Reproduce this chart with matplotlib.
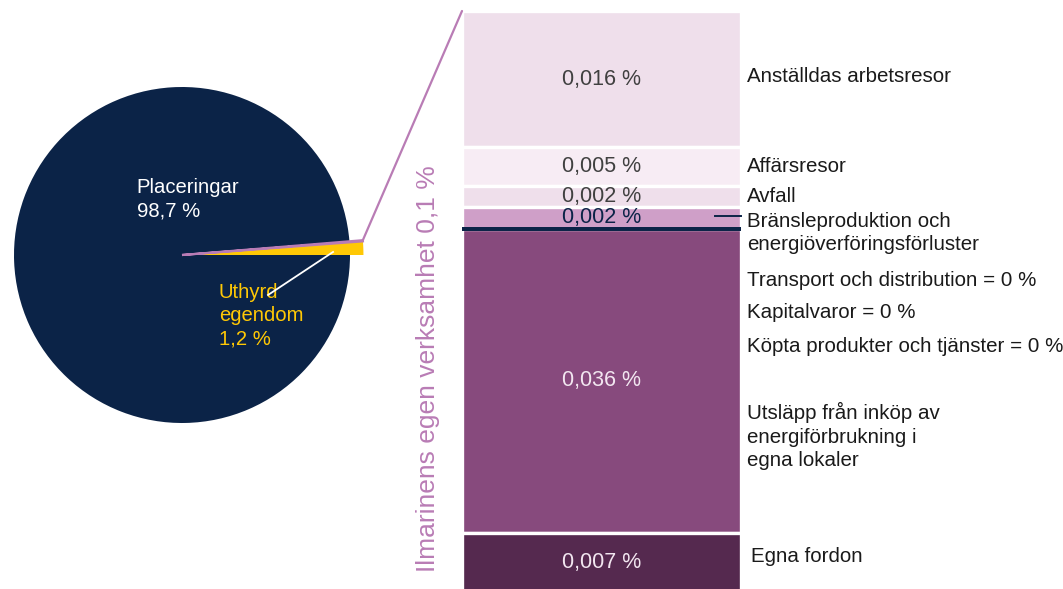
"""
Bar-of-pie: Ilmarinen emissions, investments vs own operations.
Run:  python plot.py
"""

import math
import matplotlib.pyplot as plt
from matplotlib.patches import ConnectionPatch

plt.rcParams["font.family"] = ["Liberation Sans", "DejaVu Sans"]

# pie data (share of total, %)
pie_labels = ["Uthyrd\negendom", "Ilmarinens egen verksamhet", "Placeringar"]
pie_values = [1.2, 0.1, 98.7]
pie_texts = ["1,2 %", "0,1 %", "98,7 %"]

# bar data, top to bottom (share of total, %)
bar_labels = [
    "Anställdas arbetsresor",
    "Affärsresor",
    "Avfall",
    "Bränsleproduktion och\nenergiöverföringsförluster",
    "Transport och distribution = 0 %",
    "Kapitalvaror = 0 %",
    "Köpta produkter och tjänster = 0 %",
    "Utsläpp från inköp av\nenergiförbrukning i\negna lokaler",
    "Egna fordon",
]
bar_values = [0.0160, 0.0045, 0.0025, 0.0026, 0.0, 0.0, 0.0, 0.0357, 0.0070]
bar_texts = ["0,016 %", "0,005 %", "0,002 %", "0,002 %", "", "", "", "0,036 %", "0,007 %"]

# styling
NAVY = "#0b2347"
YELLOW = "#ffc805"
PURPLE = "#b97cb5"
bar_colors = ["#efdfeb", "#f7ecf4", "#efdfeb", "#cf9fc8", NAVY, NAVY, NAVY, "#874a7d", "#55294f"]
text_colors = ["#404040", "#404040", "#404040", NAVY, "w", "w", "w", "#f2e6f0", "#f2e6f0"]
# y pixel (from top) of the right-hand category labels
label_ypix = [76, 166, 196, 233, 281, 313, 347, 436, 557]

W, H = 1063, 589
fig = plt.figure(figsize=(W / 100, H / 100), dpi=100)

# ---- pie ----
R = 168  # px per unit
cx, cy = 182, 255
ax_pie = fig.add_axes([0, (H - 460) / H, 420 / W, 420 / H])
ax_pie.axis("off")

wedges, _ = ax_pie.pie(pie_values, colors=[YELLOW, PURPLE, NAVY], startangle=0,
                       radius=1.0, wedgeprops=dict(linewidth=0))
wedges[2].set_zorder(1)
# the two small slices stick out past the rim
small, _ = ax_pie.pie(pie_values, colors=[YELLOW, PURPLE, "none"], startangle=0,
                      radius=1.08, wedgeprops=dict(linewidth=0))
small[1].set_edgecolor(PURPLE)
small[1].set_linewidth(1.6)
for w in small:
    w.set_zorder(3)
ax_pie.set_xlim(-cx / R, (420 - cx) / R)
ax_pie.set_ylim(-(460 - cy) / R, (cy - 40) / R)

ax_pie.text(-0.27, 0.333, pie_labels[2] + "\n" + pie_texts[2], color="w",
            fontsize=14.6, ha="left", va="center", linespacing=1.27, zorder=5)
ax_pie.text(0.22, -0.363, pie_labels[0] + "\n" + pie_texts[0], color=YELLOW,
            fontsize=14.6, ha="left", va="center", linespacing=1.27, zorder=5)
ax_pie.plot([0.899, 0.512], [0.018, -0.238], color="w", lw=1.3, zorder=6)

# ---- stacked bar ----
px_per_unit = 8515
bx0, bx1 = 462, 741
ax_bar = fig.add_axes([bx0 / W, 0, (bx1 - bx0) / W, (H - 11) / H])
total = sum(bar_values)
ax_bar.set_ylim(total - (H - 11) / px_per_unit, total)
ax_bar.set_xlim(-0.5, 0.5)
ax_bar.axis("off")

bottoms = []
b = total
for v in bar_values:
    b -= v
    bottoms.append(b)

for i, (v, bt) in enumerate(zip(bar_values, bottoms)):
    if v > 0:
        ax_bar.bar(0, v, bottom=bt, width=1.0, color=bar_colors[i],
                   edgecolor="w", linewidth=2.4, zorder=2, clip_on=False)
    else:
        ax_bar.bar(0, v, bottom=bt, width=1.0, color=bar_colors[i],
                   edgecolor=bar_colors[i], linewidth=2.6, zorder=3, clip_on=False)
    if bar_texts[i]:
        ax_bar.text(0, bt + v / 2, bar_texts[i], color=text_colors[i], fontsize=15.5,
                    ha="center", va="center", zorder=4)

# right-hand labels
for lab, yp in zip(bar_labels, label_ypix):
    x = 751 if lab == "Egna fordon" else 747
    fig.text(x / W, 1 - yp / H, lab, fontsize=14.8, color="#1a1a1a",
             ha="left", va="center", linespacing=1.32)
# leader for Bränsleproduktion
fig.add_artist(plt.Line2D([715 / W, 741 / W], [1 - 216 / H, 1 - 216 / H],
                          color=NAVY, lw=1.4))

# vertical title of the bar
fig.text(428 / W, 1 - 369 / H, "Ilmarinens egen verksamhet " + pie_texts[1],
         rotation=90, color=PURPLE, fontsize=19, ha="center", va="center")

# connector from the small slice to the top of the bar
theta = math.radians(360 * (pie_values[0] + pie_values[1]) / 100)
con = ConnectionPatch(xyA=(1.08 * math.cos(theta), 1.08 * math.sin(theta)), coordsA=ax_pie.transData,
                      xyB=(-0.5, total), coordsB=ax_bar.transData,
                      color=PURPLE, lw=1.6)
fig.add_artist(con)

plt.savefig("out.png", dpi=100)
